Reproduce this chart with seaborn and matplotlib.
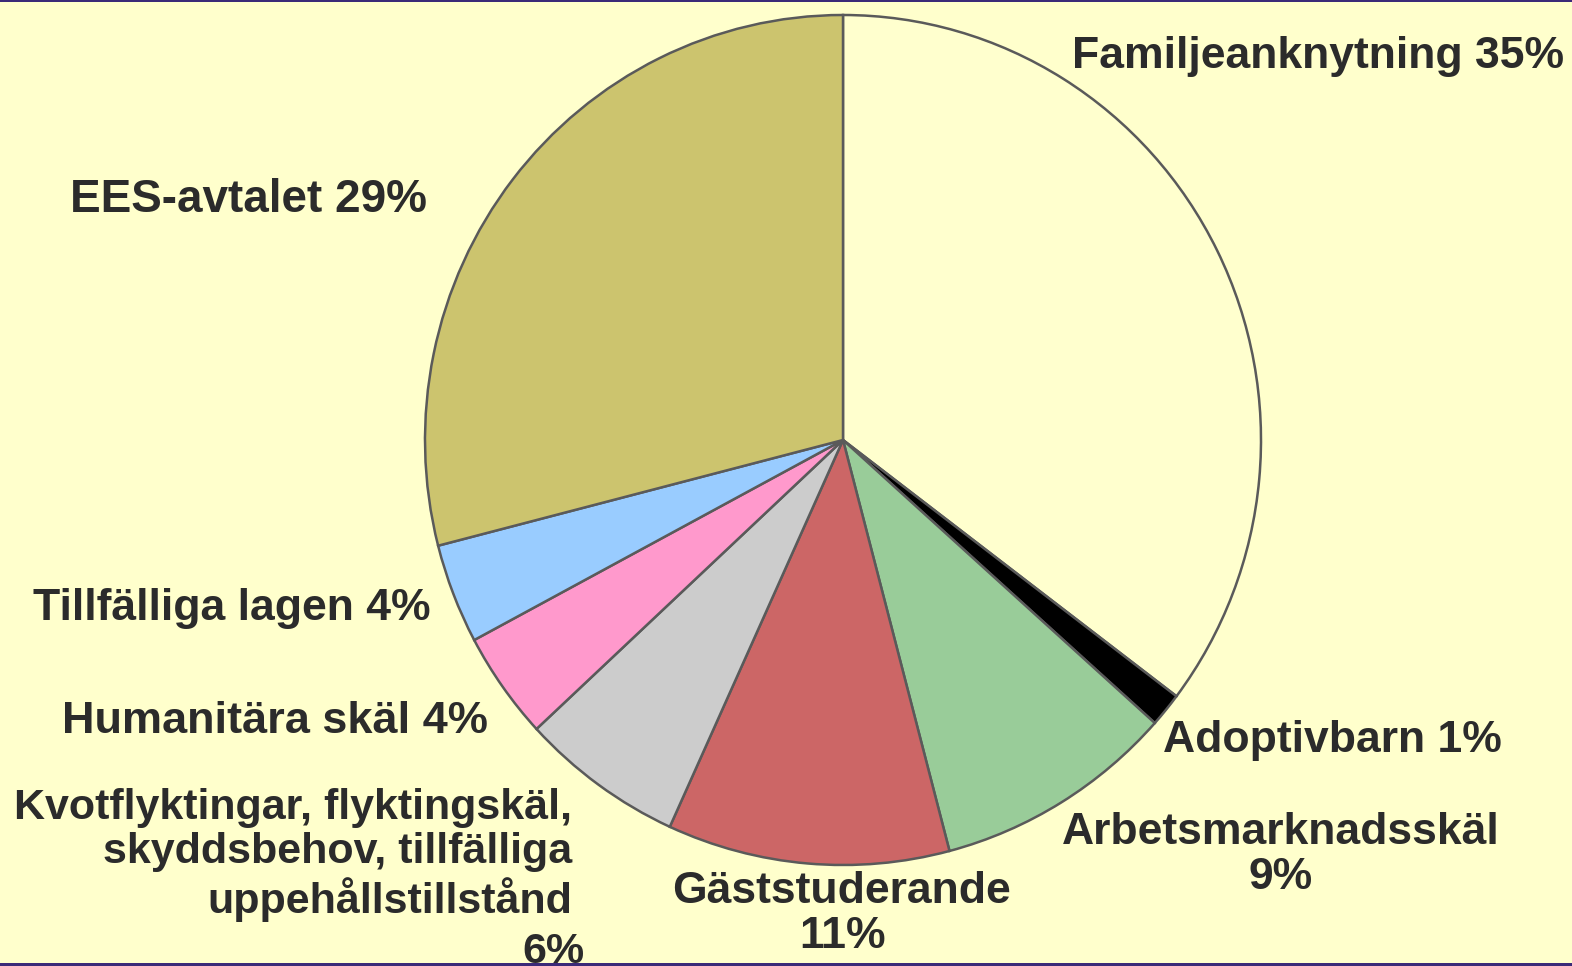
import matplotlib
matplotlib.use('Agg')
import matplotlib.pyplot as plt
import seaborn as sns
from matplotlib.patches import Rectangle

# data (clockwise from 12 o'clock)
categories = ['Familjeanknytning', 'Adoptivbarn', 'Arbetsmarknadsskäl', 'Gäststuderande',
              'Kvotflyktingar, flyktingskäl,\nskyddsbehov, tillfälliga\nuppehållstillstånd',
              'Humanitära skäl', 'Tillfälliga lagen', 'EES-avtalet']
shares = [35.3, 1.3, 9.3, 10.9, 6.3, 4.1, 3.8, 29.0]
pct_labels = ['35%', '1%', '9%', '11%', '6%', '4%', '4%', '29%']
colors = ['#FFFFCE', '#000000', '#99CC99', '#CC6666', '#CCCCCC', '#FF99CC', '#99CCFF', '#CCC46E']

W, H = 1572, 966
bg = '#FFFFCC'
txt_col = '#2b2b2b'

sns.set_theme(style='white')
plt.rcParams['font.family'] = ['Liberation Sans', 'DejaVu Sans']

fig = plt.figure(figsize=(W / 100, H / 100), dpi=100, facecolor=bg)
ax = fig.add_axes([0, 0, 1, 1])
ax.set_facecolor(bg)

# pie centre / radii in pixels
cx, cy, rx, ry = 843, 440, 418, 425

ax.pie(shares, colors=colors, startangle=90, counterclock=False, radius=1,
       wedgeprops=dict(edgecolor='#5a5a5a', linewidth=1.8))
ax.set_aspect('auto')
ax.set_xlim(-cx / rx, (W - cx) / rx)
ax.set_ylim(-(H - cy) / ry, cy / ry)
ax.axis('off')


def fx(x):
    return x / W


def fy(y):
    return 1 - y / H


font = dict(fontweight='bold', color=txt_col, transform=fig.transFigure)

# label layout (pixel positions): x, y, ha, va, separator, size
layout = [
    (1072, 68, 'left', 'baseline', ' ', 32),
    (1163, 752, 'left', 'baseline', ' ', 32),
    (1281, 855, 'center', 'center', '\n', 32),
    (842, 914, 'center', 'center', '\n', 32),
    (572, 855, 'right', 'center', None, 31),
    (62, 733, 'left', 'baseline', ' ', 32.5),
    (33, 620, 'left', 'baseline', ' ', 32),
    (70, 212, 'left', 'baseline', ' ', 33),
]

for name, pct, (x, y, ha, va, sep, fs) in zip(categories, pct_labels, layout):
    if sep is None:
        fig.text(fx(x), fy(y), name, ha=ha, va=va, linespacing=1.13, fontsize=fs, **font)
        fig.text(fx(553), fy(952), pct, ha='center', va='center', fontsize=fs, **font)
    else:
        fig.text(fx(x), fy(y), name + sep + pct, ha=ha, va=va, fontsize=fs,
                 multialignment='center', linespacing=1.13, **font)

# dark frame lines top and bottom
fig.add_artist(Rectangle((0, 1 - 2 / H), 1, 2 / H, transform=fig.transFigure,
                         facecolor='#3B2A78', edgecolor='none'))
fig.add_artist(Rectangle((0, 0), 1, 3 / H, transform=fig.transFigure,
                         facecolor='#3B2A78', edgecolor='none'))

fig.savefig('out.png', dpi=100, facecolor=bg)
